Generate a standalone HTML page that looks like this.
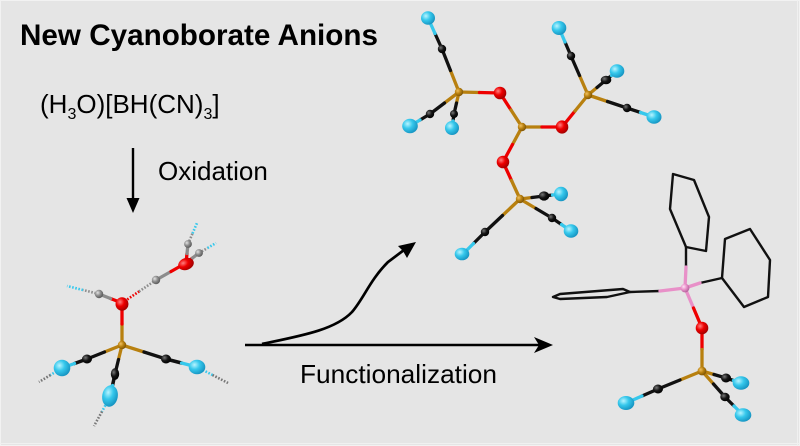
<!DOCTYPE html>
<html><head><meta charset="utf-8"><style>
html,body{margin:0;padding:0;background:#e5e5e5;}
svg{display:block;}
text{font-family:"Liberation Sans",Arial,sans-serif;fill:#000;}
</style></head><body>
<svg width="800" height="446" viewBox="0 0 800 446" xmlns="http://www.w3.org/2000/svg">
<defs>
<radialGradient id="gC" cx="35%" cy="35%" r="70%"><stop offset="0" stop-color="#b8f4ff"/><stop offset="0.45" stop-color="#36c8ec"/><stop offset="1" stop-color="#1592c0"/></radialGradient>
<radialGradient id="gR" cx="35%" cy="35%" r="70%"><stop offset="0" stop-color="#ff8080"/><stop offset="0.45" stop-color="#ee0000"/><stop offset="1" stop-color="#a00000"/></radialGradient>
<radialGradient id="gG" cx="35%" cy="35%" r="70%"><stop offset="0" stop-color="#f0c060"/><stop offset="0.5" stop-color="#b8800f"/><stop offset="1" stop-color="#7a5206"/></radialGradient>
<radialGradient id="gK" cx="35%" cy="35%" r="70%"><stop offset="0" stop-color="#777"/><stop offset="0.5" stop-color="#151515"/><stop offset="1" stop-color="#000"/></radialGradient>
<radialGradient id="gH" cx="35%" cy="35%" r="70%"><stop offset="0" stop-color="#e4e4e4"/><stop offset="0.5" stop-color="#8c8c8c"/><stop offset="1" stop-color="#555"/></radialGradient>
<radialGradient id="gP" cx="35%" cy="35%" r="70%"><stop offset="0" stop-color="#ffe0f4"/><stop offset="0.5" stop-color="#e890c8"/><stop offset="1" stop-color="#b0609a"/></radialGradient>
</defs>
<rect x="0" y="0" width="800" height="446" fill="#e5e5e5"/>
<rect x="0.5" y="0.5" width="799" height="445" fill="none" stroke="#f2f2f2" stroke-width="1"/>
<line x1="797.5" y1="0" x2="797.5" y2="446" stroke="#f0f0f0" stroke-width="1"/>
<line x1="0" y1="443.5" x2="800" y2="443.5" stroke="#f0f0f0" stroke-width="1"/>

<!-- Text -->
<text x="20" y="45" font-size="29.5" font-weight="bold" textLength="358" lengthAdjust="spacingAndGlyphs">New Cyanoborate Anions</text>
<text x="40" y="113" font-size="26">(H<tspan font-size="16" dy="6">3</tspan><tspan dy="-6">O)[BH(CN)</tspan><tspan font-size="16" dy="6">3</tspan><tspan dy="-6">]</tspan></text>
<text x="158" y="180" font-size="26">Oxidation</text>
<text x="300" y="383" font-size="26" textLength="197" lengthAdjust="spacingAndGlyphs">Functionalization</text>

<!-- Arrows -->
<line x1="133" y1="148" x2="133" y2="202" stroke="#000" stroke-width="2.4"/>
<polygon points="126.5,198 139.5,198 133,213" fill="#000"/>
<line x1="245" y1="345" x2="540" y2="345" stroke="#000" stroke-width="2.4"/>
<polygon points="553,345 534,337 539,345 534,353" fill="#000"/>
<path d="M262,344 C300,336 335,330 352,312 C364,298 370,280 388,262 L404,250" fill="none" stroke="#000" stroke-width="2.7"/>
<polygon points="416,242 398,246 403,251 407,258" fill="#000"/>

<g stroke-linecap="round" fill="none">
<!-- Left molecule bonds -->
<g stroke-width="3.3">
<line x1="122" y1="345" x2="122" y2="324" stroke="#b8800f"/>
<line x1="122" y1="324" x2="122" y2="303" stroke="#ee0000"/>
<line x1="122" y1="303" x2="110.5" y2="298.5" stroke="#ee0000"/>
<line x1="110.5" y1="298.5" x2="99" y2="294" stroke="#8c8c8c"/>
<line x1="156" y1="280" x2="171" y2="271.5" stroke="#8c8c8c"/>
<line x1="171" y1="271.5" x2="186" y2="263" stroke="#ee0000"/>
<line x1="186" y1="263" x2="187" y2="253.5" stroke="#ee0000"/>
<line x1="187" y1="253.5" x2="188" y2="244" stroke="#8c8c8c"/>
<line x1="186" y1="263" x2="192.5" y2="258" stroke="#ee0000"/>
<line x1="192.5" y1="258" x2="199" y2="253" stroke="#8c8c8c"/>
<line x1="122" y1="345" x2="104.5" y2="352" stroke="#b8800f"/>
<line x1="104.5" y1="352" x2="87" y2="359" stroke="#111"/>
<line x1="87" y1="359" x2="74.5" y2="363.5" stroke="#111" stroke-width="3.5"/>
<line x1="74.5" y1="363.5" x2="62" y2="368" stroke="#36c8ec"/>
<line x1="122" y1="345" x2="118.5" y2="359.5" stroke="#b8800f"/>
<line x1="118.5" y1="359.5" x2="115" y2="374" stroke="#111"/>
<line x1="115" y1="374" x2="112.5" y2="385.5" stroke="#111" stroke-width="3.5"/>
<line x1="112.5" y1="385.5" x2="110" y2="397" stroke="#36c8ec"/>
<line x1="122" y1="345" x2="144" y2="352" stroke="#b8800f"/>
<line x1="144" y1="352" x2="166" y2="359" stroke="#111"/>
<line x1="166" y1="359" x2="181.5" y2="363" stroke="#111" stroke-width="3.5"/>
<line x1="181.5" y1="363" x2="197" y2="367" stroke="#36c8ec"/>
</g>
<g stroke-width="2.6" stroke-dasharray="1.6 1.6" stroke-linecap="butt">
<line x1="99" y1="294" x2="83" y2="290" stroke="#8c8c8c"/>
<line x1="83" y1="290" x2="67" y2="286" stroke="#36c8ec"/>
<line x1="122" y1="303" x2="139" y2="291.5" stroke="#ee0000"/>
<line x1="139" y1="291.5" x2="156" y2="280" stroke="#8c8c8c"/>
<line x1="188" y1="244" x2="192.5" y2="233.5" stroke="#8c8c8c"/>
<line x1="192.5" y1="233.5" x2="197" y2="223" stroke="#36c8ec"/>
<line x1="199" y1="253" x2="207.5" y2="248" stroke="#8c8c8c"/>
<line x1="207.5" y1="248" x2="216" y2="243" stroke="#36c8ec"/>
<line x1="62" y1="368" x2="50.5" y2="375" stroke="#36c8ec"/>
<line x1="50.5" y1="375" x2="39" y2="382" stroke="#777"/>
<line x1="110" y1="397" x2="102" y2="411.5" stroke="#36c8ec"/>
<line x1="102" y1="411.5" x2="94" y2="426" stroke="#777"/>
<line x1="197" y1="367" x2="212.5" y2="375" stroke="#36c8ec"/>
<line x1="212.5" y1="375" x2="228" y2="383" stroke="#777"/>
</g>

<!-- Top-right molecule bonds -->
<g stroke-width="3.3">
<line x1="459" y1="92" x2="479.5" y2="92.5" stroke="#b8800f"/>
<line x1="479.5" y1="92.5" x2="500" y2="93" stroke="#ee0000"/>
<line x1="500" y1="93" x2="511" y2="110" stroke="#ee0000"/>
<line x1="511" y1="110" x2="522" y2="127" stroke="#b8800f"/>
<line x1="522" y1="127" x2="542" y2="127" stroke="#b8800f"/>
<line x1="542" y1="127" x2="562" y2="127" stroke="#ee0000"/>
<line x1="562" y1="127" x2="575" y2="111" stroke="#ee0000"/>
<line x1="575" y1="111" x2="588" y2="95" stroke="#b8800f"/>
<line x1="522" y1="127" x2="512.5" y2="144.5" stroke="#b8800f"/>
<line x1="512.5" y1="144.5" x2="503" y2="162" stroke="#ee0000"/>
<line x1="503" y1="162" x2="511.5" y2="180.5" stroke="#ee0000"/>
<line x1="511.5" y1="180.5" x2="520" y2="199" stroke="#b8800f"/>

<line x1="459" y1="92" x2="450.5" y2="70.5" stroke="#b8800f"/>
<line x1="450.5" y1="70.5" x2="442" y2="49" stroke="#111"/>
<line x1="442" y1="49" x2="435" y2="33.5" stroke="#111"/>
<line x1="435" y1="33.5" x2="428" y2="18" stroke="#36c8ec"/>
<line x1="459" y1="92" x2="444.5" y2="103" stroke="#b8800f"/>
<line x1="444.5" y1="103" x2="430" y2="114" stroke="#111"/>
<line x1="430" y1="114" x2="420" y2="120" stroke="#111"/>
<line x1="420" y1="120" x2="410" y2="126" stroke="#36c8ec"/>
<line x1="459" y1="92" x2="456.5" y2="103" stroke="#b8800f"/>
<line x1="456.5" y1="103" x2="454" y2="114" stroke="#111"/>
<line x1="454" y1="114" x2="453" y2="121" stroke="#111"/>
<line x1="453" y1="121" x2="452" y2="128" stroke="#36c8ec"/>

<line x1="588" y1="95" x2="579.5" y2="75.5" stroke="#b8800f"/>
<line x1="579.5" y1="75.5" x2="571" y2="56" stroke="#111"/>
<line x1="571" y1="56" x2="565" y2="42" stroke="#111"/>
<line x1="565" y1="42" x2="559" y2="28" stroke="#36c8ec"/>
<line x1="588" y1="95" x2="597" y2="87.5" stroke="#b8800f"/>
<line x1="597" y1="87.5" x2="606" y2="80" stroke="#111"/>
<line x1="606" y1="80" x2="611.5" y2="75.5" stroke="#111"/>
<line x1="611.5" y1="75.5" x2="617" y2="71" stroke="#36c8ec"/>
<line x1="588" y1="95" x2="607.5" y2="101.5" stroke="#b8800f"/>
<line x1="607.5" y1="101.5" x2="627" y2="108" stroke="#111"/>
<line x1="627" y1="108" x2="640.5" y2="112.5" stroke="#111"/>
<line x1="640.5" y1="112.5" x2="654" y2="117" stroke="#36c8ec"/>

<line x1="520" y1="199" x2="532" y2="197.5" stroke="#b8800f"/>
<line x1="532" y1="197.5" x2="544" y2="196" stroke="#111"/>
<line x1="544" y1="196" x2="552.5" y2="195" stroke="#111"/>
<line x1="552.5" y1="195" x2="561" y2="194" stroke="#36c8ec"/>
<line x1="520" y1="199" x2="536" y2="208.5" stroke="#b8800f"/>
<line x1="536" y1="208.5" x2="552" y2="218" stroke="#111"/>
<line x1="552" y1="218" x2="561.5" y2="224.5" stroke="#111"/>
<line x1="561.5" y1="224.5" x2="571" y2="231" stroke="#36c8ec"/>
<line x1="520" y1="199" x2="502.5" y2="215.5" stroke="#b8800f"/>
<line x1="502.5" y1="215.5" x2="485" y2="232" stroke="#111"/>
<line x1="485" y1="232" x2="473.5" y2="243.5" stroke="#111"/>
<line x1="473.5" y1="243.5" x2="462" y2="255" stroke="#36c8ec"/>
</g>

<!-- Bottom-right molecule -->
<g stroke-width="2.4" stroke="#111" stroke-linejoin="round">
<polygon points="686,247 706,251 709,217 694,180 673,174 670,209"/>
<polygon points="722,278 725,239 750,229 770,260 768,297 744,307"/>
<polygon points="630,292 623,289 560,294 553,297 560,299 607,297"/>
<line x1="686" y1="267" x2="686" y2="247"/>
<line x1="700" y1="283" x2="722" y2="278"/>
<line x1="660" y1="291" x2="630" y2="292"/>
</g>
<g stroke-width="3.3">
<line x1="685" y1="288" x2="686" y2="267" stroke="#e890c8"/>
<line x1="685" y1="288" x2="700" y2="283" stroke="#e890c8"/>
<line x1="685" y1="288" x2="660" y2="291" stroke="#e890c8"/>
<line x1="685" y1="288" x2="693.5" y2="308" stroke="#e890c8"/>
<line x1="693.5" y1="308" x2="702" y2="328" stroke="#ee0000"/>
<line x1="702" y1="328" x2="702" y2="349.5" stroke="#ee0000"/>
<line x1="702" y1="349.5" x2="702" y2="371" stroke="#b8800f"/>
<line x1="702" y1="371" x2="680" y2="380" stroke="#b8800f"/>
<line x1="680" y1="380" x2="658" y2="389" stroke="#111"/>
<line x1="658" y1="389" x2="642" y2="396" stroke="#111"/>
<line x1="642" y1="396" x2="626" y2="403" stroke="#36c8ec"/>
<line x1="702" y1="371" x2="714" y2="374.5" stroke="#b8800f"/>
<line x1="714" y1="374.5" x2="726" y2="378" stroke="#111"/>
<line x1="726" y1="378" x2="733.5" y2="380.5" stroke="#111"/>
<line x1="733.5" y1="380.5" x2="741" y2="383" stroke="#36c8ec"/>
<line x1="702" y1="371" x2="713.5" y2="384" stroke="#b8800f"/>
<line x1="713.5" y1="384" x2="725" y2="397" stroke="#111"/>
<line x1="725" y1="397" x2="734" y2="406" stroke="#111"/>
<line x1="734" y1="406" x2="743" y2="415" stroke="#36c8ec"/>
</g>
</g>

<!-- Atoms: left molecule -->
<g>
<circle cx="122" cy="345" r="4.2" fill="url(#gG)"/>
<ellipse cx="122" cy="304" rx="6.5" ry="6.8" fill="url(#gR)"/>
<circle cx="99" cy="294" r="4.2" fill="url(#gH)"/>
<circle cx="156" cy="280" r="4.2" fill="url(#gH)"/>
<ellipse cx="186" cy="264" rx="8" ry="6" transform="rotate(-20 186 264)" fill="url(#gR)"/>
<circle cx="188" cy="244" r="3.9" fill="url(#gH)"/>
<circle cx="199" cy="253" r="3.9" fill="url(#gH)"/>
<ellipse cx="87" cy="359" rx="5" ry="4.5" fill="url(#gK)"/>
<ellipse cx="115" cy="374" rx="4.2" ry="5.8" fill="url(#gK)"/>
<ellipse cx="166" cy="359" rx="5" ry="4.5" fill="url(#gK)"/>
<ellipse cx="62" cy="368" rx="8.3" ry="8.3" fill="url(#gC)"/>
<ellipse cx="110" cy="396" rx="7.8" ry="10.8" transform="rotate(10 110 396)" fill="url(#gC)"/>
<ellipse cx="197" cy="367" rx="8.3" ry="7.3" fill="url(#gC)"/>
</g>

<!-- Atoms: top-right -->
<g>
<circle cx="459" cy="92" r="4.2" fill="url(#gG)"/>
<circle cx="522" cy="127" r="4.2" fill="url(#gG)"/>
<circle cx="588" cy="95" r="4.2" fill="url(#gG)"/>
<circle cx="520" cy="199" r="4.2" fill="url(#gG)"/>
<ellipse cx="500" cy="93" rx="6.3" ry="6.3" fill="url(#gR)"/>
<ellipse cx="562" cy="127" rx="6.3" ry="6.6" fill="url(#gR)"/>
<ellipse cx="503" cy="162" rx="6.3" ry="6.3" fill="url(#gR)"/>
<circle cx="442" cy="49" r="4.2" fill="url(#gK)"/>
<circle cx="430" cy="114" r="4.2" fill="url(#gK)"/>
<circle cx="454" cy="114" r="4" fill="url(#gK)"/>
<ellipse cx="606" cy="80" rx="5.3" ry="4.3" fill="url(#gK)"/>
<circle cx="571" cy="56" r="4.2" fill="url(#gK)"/>
<circle cx="627" cy="108" r="4.2" fill="url(#gK)"/>
<ellipse cx="544" cy="196" rx="5.3" ry="4.6" fill="url(#gK)"/>
<circle cx="552" cy="218" r="4.2" fill="url(#gK)"/>
<circle cx="485" cy="232" r="4.2" fill="url(#gK)"/>
<ellipse cx="428" cy="18" rx="7" ry="6.8" fill="url(#gC)"/>
<ellipse cx="410" cy="126" rx="7.8" ry="7.3" fill="url(#gC)"/>
<ellipse cx="452" cy="128" rx="7" ry="7" fill="url(#gC)"/>
<ellipse cx="559" cy="28" rx="7.3" ry="7" fill="url(#gC)"/>
<ellipse cx="617" cy="71" rx="7.3" ry="6.8" fill="url(#gC)"/>
<ellipse cx="654" cy="117" rx="7.5" ry="6.8" fill="url(#gC)"/>
<ellipse cx="561" cy="194" rx="7" ry="7.3" fill="url(#gC)"/>
<ellipse cx="571" cy="231" rx="7.3" ry="6.8" fill="url(#gC)"/>
<ellipse cx="462" cy="254" rx="7.3" ry="6.3" fill="url(#gC)"/>
</g>

<!-- Atoms: bottom-right -->
<g>
<circle cx="685" cy="288" r="4.4" fill="url(#gP)"/>
<ellipse cx="702" cy="328" rx="6.3" ry="6.3" fill="url(#gR)"/>
<circle cx="702" cy="371" r="4.4" fill="url(#gG)"/>
<ellipse cx="658" cy="389" rx="5" ry="4.5" fill="url(#gK)"/>
<ellipse cx="726" cy="378" rx="5" ry="4.5" fill="url(#gK)"/>
<ellipse cx="725" cy="397" rx="4.7" ry="4.2" fill="url(#gK)"/>
<ellipse cx="626" cy="403" rx="8.3" ry="7" fill="url(#gC)"/>
<ellipse cx="741" cy="383" rx="8.3" ry="6.8" fill="url(#gC)"/>
<ellipse cx="743" cy="415" rx="8.3" ry="6.8" fill="url(#gC)"/>
</g>
</svg>
</body></html>
